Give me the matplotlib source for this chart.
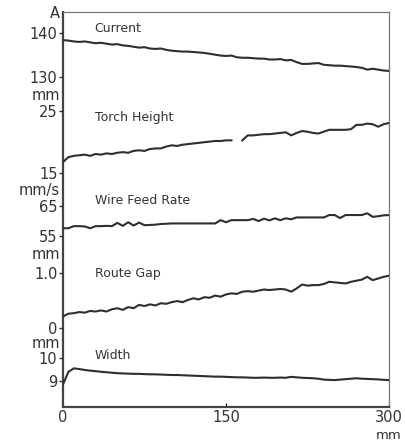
import numpy as np
import matplotlib
matplotlib.use('Agg')
import matplotlib.pyplot as plt
from matplotlib.transforms import blended_transform_factory

# distance along the weld, mm (sampled every 5 mm)
distance_mm = list(range(0, 301, 5))

current_a = [138.4, 138.3, 138.1, 138.0, 138.1, 137.9, 137.7, 137.8, 137.6, 137.4,
             137.5, 137.2, 137.1, 136.9, 136.7, 136.8, 136.5, 136.4, 136.5, 136.2,
             136.0, 135.9, 135.8, 135.8, 135.7, 135.6, 135.5, 135.3, 135.1, 134.9,
             134.8, 134.9, 134.5, 134.4, 134.4, 134.3, 134.2, 134.2, 134.0, 134.0,
             134.1, 133.8, 133.9, 133.4, 133.0, 133.0, 133.1, 133.2, 132.8, 132.7,
             132.6, 132.6, 132.5, 132.4, 132.3, 132.1, 131.7, 131.9, 131.7, 131.5,
             131.4]

torch_height_mm = [16.8, 17.6, 17.8, 17.9, 18.0, 17.8, 18.1, 18.0, 18.2, 18.1,
                   18.3, 18.4, 18.3, 18.6, 18.7, 18.6, 18.9, 19.0, 19.0, 19.3,
                   19.5, 19.4, 19.6, 19.7, 19.8, 19.9, 20.0, 20.1, 20.2, 20.2,
                   20.3, 20.3, np.nan, 20.3, 21.1, 21.1, 21.2, 21.3, 21.3, 21.4,
                   21.5, 21.6, 21.1, 21.5, 21.8, 21.7, 21.5, 21.4, 21.7, 22.0,
                   22.0, 22.0, 22.0, 22.1, 22.8, 22.8, 23.0, 22.9, 22.5, 22.9,
                   23.1]

wire_feed_mms = [57.6, 57.6, 58.3, 58.3, 58.2, 57.6, 58.3, 58.3, 58.4, 58.3,
                 59.4, 58.4, 59.6, 58.5, 59.5, 58.6, 58.7, 58.8, 59.0, 59.1,
                 59.2, 59.2, 59.2, 59.2, 59.2, 59.2, 59.2, 59.2, 59.2, 60.3,
                 59.6, 60.3, 60.3, 60.3, 60.3, 60.7, 60.0, 60.8, 60.2, 60.9,
                 60.3, 60.9, 60.6, 61.2, 61.2, 61.2, 61.2, 61.2, 61.2, 62.0,
                 62.0, 61.0, 62.0, 62.0, 62.0, 62.0, 62.6, 61.4, 61.6, 61.9,
                 62.0]

route_gap_mm = [0.21, 0.26, 0.27, 0.29, 0.28, 0.31, 0.30, 0.32, 0.30, 0.34,
                0.36, 0.33, 0.38, 0.36, 0.42, 0.40, 0.43, 0.41, 0.45, 0.44,
                0.47, 0.49, 0.47, 0.51, 0.54, 0.52, 0.56, 0.55, 0.59, 0.57,
                0.61, 0.63, 0.62, 0.66, 0.67, 0.66, 0.68, 0.70, 0.69, 0.70,
                0.71, 0.70, 0.66, 0.72, 0.79, 0.77, 0.78, 0.78, 0.80, 0.84,
                0.83, 0.82, 0.81, 0.84, 0.86, 0.88, 0.93, 0.87, 0.90, 0.93,
                0.95]

width_mm = [8.85, 9.40, 9.55, 9.52, 9.48, 9.45, 9.43, 9.40, 9.38, 9.36,
            9.34, 9.33, 9.32, 9.31, 9.31, 9.30, 9.29, 9.29, 9.28, 9.27,
            9.26, 9.26, 9.25, 9.24, 9.23, 9.22, 9.21, 9.20, 9.19, 9.19,
            9.18, 9.17, 9.16, 9.16, 9.15, 9.14, 9.14, 9.15, 9.14, 9.14,
            9.15, 9.14, 9.18, 9.16, 9.14, 9.13, 9.12, 9.10, 9.06, 9.05,
            9.04, 9.06, 9.08, 9.10, 9.12, 9.10, 9.09, 9.08, 9.07, 9.05,
            9.04]

# name, unit, data, two tick values, ylim
channels = [
    ('Current', 'A', current_a, [130, 140], ['130', '140'], (55.0, 144.8)),
    ('Torch Height', 'mm', torch_height_mm, [15, 25], ['15', '25'], (-22.7, 41.0)),
    ('Wire Feed Rate', 'mm/s', wire_feed_mms, [55, 65], ['55', '65'], (-2.0, 129.7)),
    ('Route Gap', 'mm', route_gap_mm, [0, 1.0], ['0', '1.0'], (-1.436, 5.745)),
    ('Width', 'mm', width_mm, [9, 10], ['9', '10'], (7.87, 25.04)),
]
# where the unit text and channel name sit, in channel units
unit_pos = [144.5, 27.6, 70.3, 1.33, 10.65]
name_pos = [141.1, 24.0, 66.7, 1.0, 10.13]

line_col = '#2e2e2e'
fig = plt.figure(figsize=(4.05, 4.43), dpi=100)
rect = [63 / 405, 36 / 443, 326 / 405, 395 / 443]

ax = fig.add_axes(rect)
ax.set_xlim(0, 300)
ax.set_yticks([])
ax.set_xticks([0, 150, 300])
ax.set_xticklabels(['0', '150', '300'], fontsize=10.5, color='#333333')
ax.tick_params(axis='x', direction='in', length=3, pad=2)
for s in ['left', 'bottom']:
    ax.spines[s].set_linewidth(1.6)
    ax.spines[s].set_color('#444444')
for s in ['top', 'right']:
    ax.spines[s].set_linewidth(0.9)
    ax.spines[s].set_color('#777777')
ax.text(300, -0.072, 'mm', transform=blended_transform_factory(ax.transData, ax.transAxes),
        ha='center', va='center', fontsize=9.5, color='#333333')

for i, (name, unit, vals, ticks, tlabels, ylim) in enumerate(channels):
    cax = fig.add_axes(rect, sharex=ax)
    cax.patch.set_visible(False)
    for s in cax.spines.values():
        s.set_visible(False)
    cax.plot(distance_mm, vals, color=line_col, linewidth=1.5)
    cax.set_ylim(*ylim)
    cax.set_yticks(ticks)
    cax.set_yticklabels(tlabels, fontsize=10.5, color='#333333')
    cax.tick_params(axis='y', direction='out', length=3, width=1, pad=1, colors='#333333')
    cax.tick_params(axis='x', bottom=False, labelbottom=False)
    tr = blended_transform_factory(cax.transAxes, cax.transData)
    cax.text(-0.01, unit_pos[i], unit, transform=tr, ha='right', va='center',
             fontsize=10.5, color='#333333')
    cax.text(29, name_pos[i], name, ha='left', va='center', fontsize=9, color='#333333')

fig.savefig('out.png', dpi=100)
